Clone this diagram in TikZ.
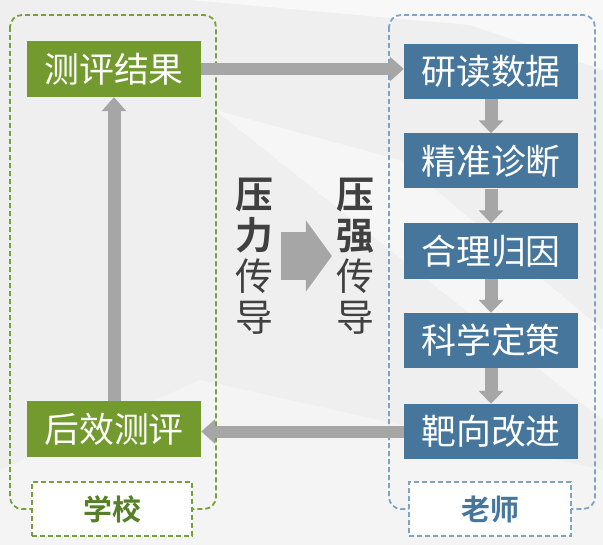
\documentclass[tikz,border=0pt]{standalone}
\usepackage{fontspec}
\setmainfont{Noto Sans CJK SC}[BoldFont={Noto Sans CJK SC Bold}]
\definecolor{school}{HTML}{739A2F}
\definecolor{schooltext}{HTML}{557F28}
\definecolor{teacher}{HTML}{46769C}
\definecolor{schoolline}{HTML}{77A03A}
\definecolor{teacherline}{HTML}{7DA3C8}
\definecolor{flow}{HTML}{A6A6A6}
\definecolor{ink}{HTML}{404040}
\definecolor{bg}{HTML}{EFEFEF}
\usetikzlibrary{arrows.meta}

\begin{document}
\begin{tikzpicture}[x=1bp,y=-1bp,>=Triangle,every node/.style={font=\fontsize{35}{40}\selectfont}]
\useasboundingbox (0,0) rectangle (603,545);
% background
\fill[bg] (0,0) rectangle (603,545);
\fill[white,opacity=0.6] (190,0) -- (603,0) -- (603,70) -- (470,25) -- cycle;
\fill[white,opacity=0.45] (215,110) -- (400,160) -- (603,330) -- (603,420) -- cycle;
\fill[white,opacity=0.35] (0,470) -- (200,380) -- (603,470) -- (603,545) -- (0,545) -- cycle;
% groups
\draw[schoolline,dash pattern=on 5bp off 3bp,line width=1.8bp,rounded corners=12bp] (10,15) rectangle (216,509);
\draw[teacherline,dash pattern=on 5bp off 3bp,line width=1.8bp,rounded corners=12bp] (389,15) rectangle (595,509);
\node[draw=schoolline,dash pattern=on 5bp off 3bp,line width=1.8bp,fill=white,minimum width=160bp,minimum height=54bp,inner sep=0pt,text=schooltext,font=\fontsize{29}{34}\selectfont\bfseries] (school) at (112,509) {学校};
\node[draw=teacherline,dash pattern=on 5bp off 3bp,line width=1.8bp,fill=white,minimum width=162bp,minimum height=54bp,inner sep=0pt,text=teacher,font=\fontsize{29}{34}\selectfont\bfseries] (teacherlbl) at (490,509) {老师};
% steps
\node[fill=school,text=white,minimum width=174bp,minimum height=56bp,inner sep=0pt] (res) at (114,69) {测评结果};
\node[fill=school,text=white,minimum width=174bp,minimum height=56bp,inner sep=0pt] (eval) at (114,429) {后效测评};
\node[fill=teacher,text=white,minimum width=174bp,minimum height=55bp,inner sep=0pt] (read) at (491,71.5) {研读数据};
\node[fill=teacher,text=white,minimum width=174bp,minimum height=55bp,inner sep=0pt] (diag) at (491,161) {精准诊断};
\node[fill=teacher,text=white,minimum width=174bp,minimum height=55bp,inner sep=0pt] (cause) at (491,251) {合理归因};
\node[fill=teacher,text=white,minimum width=174bp,minimum height=55bp,inner sep=0pt] (plan) at (491,340.5) {科学定策};
\node[fill=teacher,text=white,minimum width=174bp,minimum height=55bp,inner sep=0pt] (fix) at (491,431.5) {靶向改进};
% middle text
\node[text=ink,align=center,inner sep=0pt,font=\fontsize{38}{41}\selectfont] (force) at (254,256) {\textbf{压}\\\textbf{力}\\传\\导};
\node[text=ink,align=center,inner sep=0pt,font=\fontsize{38}{41}\selectfont] (press) at (355,256) {\textbf{压}\\\textbf{强}\\传\\导};
% arrows
\draw[flow,line width=12bp,-{Triangle[width=24bp,length=14bp]}] (res.east) -- (res.east -| read.west);
\draw[flow,line width=12bp,-{Triangle[width=24bp,length=14bp]}] (fix.west) -- (fix.west -| eval.east);
\draw[flow,line width=13bp,-{Triangle[width=24bp,length=14bp]}] (eval.north) -- (res.south);
\foreach \a/\b in {read/diag,diag/cause,cause/plan,plan/fix}
  \draw[flow,line width=13bp,-{Triangle[width=24bp,length=13bp]}] (\a.south) -- (\b.north);
\draw[flow,line width=48bp,-{Triangle[width=70bp,length=26bp]},shorten <=8bp,shorten >=4bp] (force.east) -- (press.west);
\end{tikzpicture}
\end{document}
